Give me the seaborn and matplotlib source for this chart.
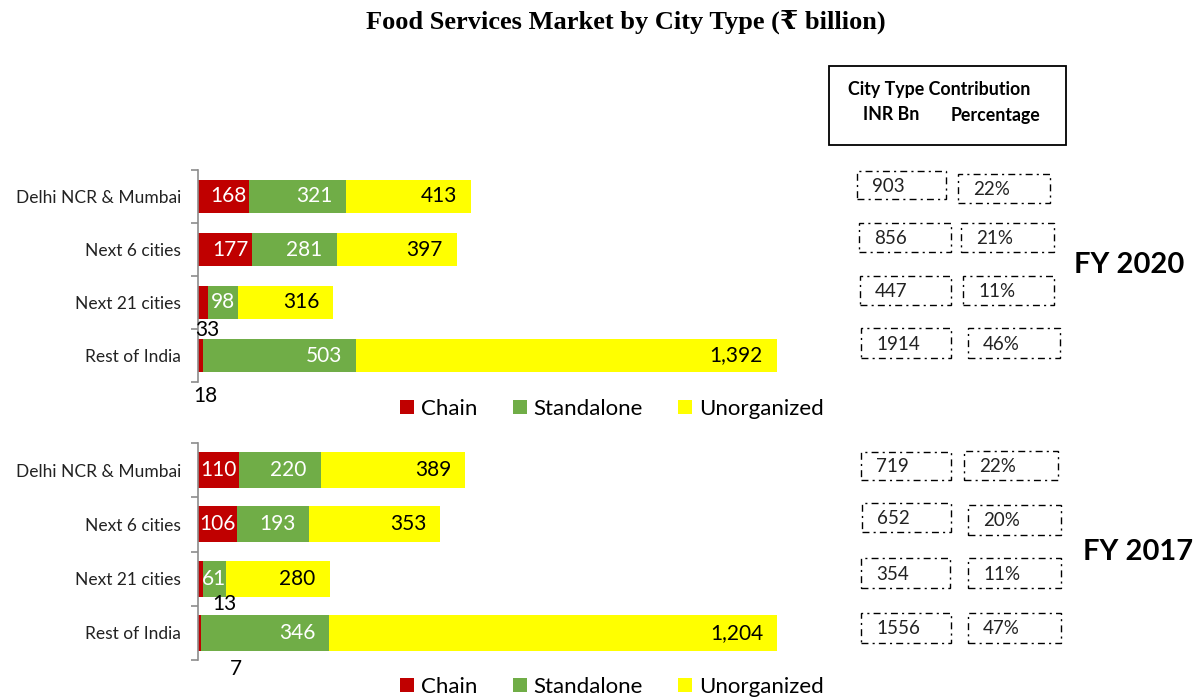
import matplotlib
matplotlib.use("Agg")
import matplotlib.pyplot as plt
import seaborn as sns
import pandas as pd
from matplotlib.patches import Rectangle, Patch

# data
cities = ["Delhi NCR & Mumbai", "Next 6 cities", "Next 21 cities", "Rest of India"]

chain_2020 = [168, 177, 33, 18]
standalone_2020 = [321, 281, 98, 503]
unorganized_2020 = [413, 397, 316, 1392]
inr_bn_2020 = [903, 856, 447, 1914]
share_2020 = ["22%", "21%", "11%", "46%"]

chain_2017 = [110, 106, 13, 7]
standalone_2017 = [220, 193, 61, 346]
unorganized_2017 = [389, 353, 280, 1204]
inr_bn_2017 = [719, 652, 354, 1556]
share_2017 = ["22%", "20%", "11%", "47%"]

series_names = ["Chain", "Standalone", "Unorganized"]

RED = "#C00000"
GREEN = "#70AD47"
YELLOW = "#FFFF00"
AXIS_GREY = "#8C8C8C"

sns.set_style("white")
plt.rcParams["font.family"] = ["Lato", "DejaVu Sans"]
plt.rcParams["text.color"] = "black"

W, H = 1194, 698
AX_LEFT, AX_RIGHT = 198, 803
fig = plt.figure(figsize=(W / 100, H / 100), dpi=100)


def px_rect(x0, y0, x1, y1):
    return [x0 / W, 1 - y1 / H, (x1 - x0) / W, (y1 - y0) / H]


def fig_text(x, y, s, **kw):
    fig.text(x / W, 1 - y / H, s, **kw)


def draw_panel(ax, chain, standalone, unorg, xmax, bar_w, small_offsets):
    df = pd.DataFrame({"city": cities, "chain": chain,
                       "standalone": standalone, "unorg": unorg})
    df["cs"] = df["chain"] + df["standalone"]
    df["total"] = df["cs"] + df["unorg"]

    # stacked bars: draw cumulative totals back to front
    for col, color in [("total", YELLOW), ("cs", GREEN), ("chain", RED)]:
        sns.barplot(data=df, x=col, y="city", color=color, saturation=1,
                    width=bar_w, errorbar=None, edgecolor="none", ax=ax)

    px_per_unit = (AX_RIGHT - AX_LEFT) / xmax
    # labels at the inside end of each segment
    for i, row in df.iterrows():
        segs = [(row["chain"], row["chain"], "white", 2),
                (row["standalone"], row["cs"], "white", 10),
                (row["unorg"], row["total"], "black", 10)]
        for k, (val, end, color, pad) in enumerate(segs):
            txt = f"{val:,}"
            if k == 0 and i in small_offsets:
                dx, dy = small_offsets[i]
                ax.annotate(txt, xy=(0, i), xytext=(dx, dy), textcoords="offset points",
                            ha="center", va="center", fontsize=15, color="black",
                            annotation_clip=False)
                continue
            seg_px = val * px_per_unit
            text_px = 12.5 * len(txt)
            if seg_px < text_px + pad * 1.39 * 2:
                # narrow segment: centre the label on it
                ax.annotate(txt, xy=(end - val / 2, i), ha="center", va="center",
                            fontsize=15, color=color)
            else:
                ax.annotate(txt, xy=(end, i), xytext=(-pad, 0), textcoords="offset points",
                            ha="right", va="center", fontsize=15, color=color)

    ax.set_xlim(0, xmax)
    ax.set_ylim(3.5, -0.5)
    ax.set_xlabel("")
    ax.set_ylabel("")
    ax.set_xticks([])
    sns.despine(ax=ax, top=True, right=True, bottom=True)
    ax.spines["left"].set_color(AXIS_GREY)
    ax.spines["left"].set_linewidth(1.2)
    ax.set_yticks([-0.5, 0.5, 1.5, 2.5, 3.5], minor=True)
    ax.tick_params(axis="y", which="minor", left=True, length=5, width=1.2,
                   color=AXIS_GREY, direction="out")
    ax.tick_params(axis="y", which="major", length=0, pad=12, labelsize=12.5,
                   labelcolor="#222222")


ax_top = fig.add_axes(px_rect(AX_LEFT, 170, AX_RIGHT, 382))
ax_bot = fig.add_axes(px_rect(AX_LEFT, 443, AX_RIGHT, 660))

draw_panel(ax_top, chain_2020, standalone_2020, unorganized_2020, 2000, 0.63,
           {2: (7, -20), 3: (5, -29)})
draw_panel(ax_bot, chain_2017, standalone_2017, unorganized_2017, 1627, 0.66,
           {2: (19, -18), 3: (27, -26)})

# legends under each panel
handles = [Patch(facecolor=c, edgecolor="none") for c in (RED, GREEN, YELLOW)]
for y in (409, 687):
    fig.legend(handles, series_names, loc="center left",
               bbox_to_anchor=(389 / W, 1 - y / H), ncol=3, frameon=False,
               fontsize=16, handlelength=0.63, handleheight=0.63,
               handletextpad=0.3, columnspacing=1.6, borderpad=0)

# title
fig_text(626, 22, "Food Services Market by City Type (\u20b9 billion)",
         ha="center", va="center", fontsize=19, fontweight="bold",
         family=["Liberation Serif", "DejaVu Serif", "DejaVu Sans"])

# contribution table header
fig.add_artist(Rectangle((829 / W, 1 - 145 / H), (1066 - 829) / W, (145 - 66) / H,
                         transform=fig.transFigure, fill=False, edgecolor="black", lw=1.3))
fig_text(939, 89, "City Type Contribution", ha="center", va="center",
         fontsize=12.8, fontweight="bold")
fig_text(891, 115, "INR Bn", ha="center", va="center", fontsize=12.8, fontweight="bold")
fig_text(996, 115, "Percentage", ha="center", va="center", fontsize=12.8, fontweight="bold")

# dash-dot value boxes (pixel layout)
boxes_top_inr = [(857, 171, 946, 199), (859, 223, 951, 252), (860, 276, 951, 305), (861, 328, 951, 358)]
boxes_top_pct = [(958, 174, 1050, 203), (961, 223, 1054, 252), (963, 276, 1054, 305), (968, 328, 1060, 358)]
boxes_bot_inr = [(861, 452, 951, 480), (862, 503, 951, 532), (861, 558, 950, 588), (861, 613, 951, 643)]
boxes_bot_pct = [(964, 451, 1058, 480), (968, 505, 1061, 535), (968, 558, 1061, 588), (968, 613, 1061, 643)]

dashdot = (0, (5, 3, 1.5, 3))
for boxes, labels in [(boxes_top_inr, [str(v) for v in inr_bn_2020]),
                      (boxes_top_pct, share_2020),
                      (boxes_bot_inr, [str(v) for v in inr_bn_2017]),
                      (boxes_bot_pct, share_2017)]:
    for (x0, y0, x1, y1), lab in zip(boxes, labels):
        fig.add_artist(Rectangle((x0 / W, 1 - y1 / H), (x1 - x0) / W, (y1 - y0) / H,
                                 transform=fig.transFigure, fill=False,
                                 edgecolor="black", lw=1, linestyle=dashdot))
        fig_text(x0 + 15, (y0 + y1) / 2 + 1, lab, ha="left", va="center",
                 fontsize=13.5, color="#222222")

fig_text(1129, 265, "FY 2020", ha="center", va="center", fontsize=21, fontweight="bold")
fig_text(1138, 552, "FY 2017", ha="center", va="center", fontsize=21, fontweight="bold")

fig.savefig("out.png", dpi=100)
